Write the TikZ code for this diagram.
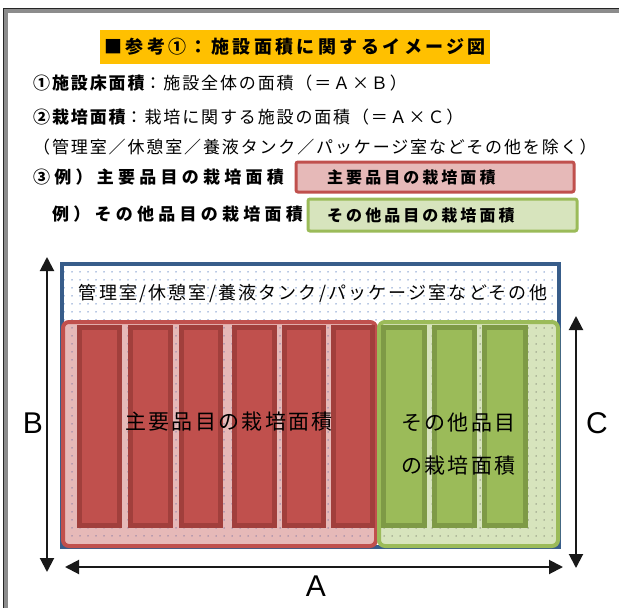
\documentclass[tikz,border=0pt]{standalone}
\usepackage{fontspec}
\setmainfont{Noto Sans CJK JP}
\newfontfamily\latinsf{Liberation Sans}
\usetikzlibrary{arrows.meta, patterns.meta}

\definecolor{titlebg}{HTML}{FFC000}
\definecolor{mainline}{HTML}{C0504D}
\definecolor{mainfill}{HTML}{E6B9B8}
\definecolor{mainbar}{HTML}{C0504D}
\definecolor{mainbarline}{HTML}{A13F3C}
\definecolor{otherline}{HTML}{9BBB59}
\definecolor{otherfill}{HTML}{D7E4BD}
\definecolor{otherbar}{HTML}{9BBB59}
\definecolor{otherbarline}{HTML}{7E9A46}
\definecolor{siteline}{HTML}{385D8A}
\definecolor{dotblue}{HTML}{6F8FC8}

\newcommand{\spaced}[1]{\addfontfeature{LetterSpace=#1}}

\begin{document}
\begin{tikzpicture}[x=1pt, y=-1pt,
    txt/.style={anchor=west, inner sep=0pt, font=\fontsize{17}{20}\selectfont\spaced{11}},
    example/.style={anchor=west, inner sep=0pt, font=\fontsize{17}{20}\selectfont\bfseries\spaced{25}},
    legendtxt/.style={anchor=west, inner sep=0pt, font=\fontsize{16}{19}\selectfont\bfseries\spaced{19}},
    areatxt/.style={inner sep=0pt, font=\fontsize{21}{24}\selectfont\spaced{11}},
    dimlabel/.style={inner sep=0pt, font=\fontsize{30}{32}\selectfont\latinsf},
    dim/.style={line width=2pt, draw=black!90, {Triangle[length=14pt, width=14pt]}-{Triangle[length=14pt, width=14pt]}},
    dots/.style={pattern={Dots[distance=8pt, radius=0.75pt]}, pattern color=#1},
    mainbox/.style={draw=mainbarline, line width=5pt, fill=mainbar},
    otherbox/.style={draw=otherbarline, line width=5pt, fill=otherbar}
]
\useasboundingbox (0,0) rectangle (619,608);
\fill[white] (0,0) rectangle (619,608);

% frame
\draw[line width=4pt, black!45] (5.5,610) |- (621,10.5);
\draw[line width=1.2pt, black!85] (3.2,610) |- (621,8.2);

% heading and notes
\fill[titlebg] (100,30) rectangle (490,64);
\node[anchor=west, inner sep=0pt, font=\fontsize{18}{20}\selectfont\bfseries\spaced{19}] (title) at (104,47) {■参考①：施設面積に関するイメージ図};
\node[txt] (floor) at (33,83) {{\bfseries ①施設床面積}：施設全体の面積（＝Ａ×Ｂ）};
\node[txt] (culti) at (33,117) {{\bfseries ②栽培面積}：栽培に関する施設の面積（＝Ａ×Ｃ）};
\node[txt] (except) at (33,147) {（管理室／休憩室／養液タンク／パッケージ室などその他を除く）};
\node[example] (ex1) at (33,177) {③例）主要品目の栽培面積};
\node[example] (ex2) at (52,214) {例）その他品目の栽培面積};

% legend
\draw[line width=3pt, draw=mainline, fill=mainfill, rounded corners=2pt] (296,162) rectangle (574,192);
\node[legendtxt] (leg1) at (327,177) {主要品目の栽培面積};
\draw[line width=3pt, draw=otherline, fill=otherfill, rounded corners=2pt] (308,199) rectangle (577,231);
\node[legendtxt] (leg2) at (327,215) {その他品目の栽培面積};

% site
\fill[white] (62,264) rectangle (559,547);
\fill[dots=dotblue] (62,264) rectangle (559,547);
\draw[line width=4pt, siteline] (62,264) rectangle (559,547);
\node[areatxt, font=\fontsize{18}{20}\selectfont\spaced{12}] (rooms) at (313,293) {管理室/休憩室/養液タンク/パッケージ室などその他};

% cultivation areas
\draw[line width=4pt, draw=mainline, fill=mainfill, rounded corners=6pt] (63,322) rectangle (376,546);
\fill[dots=dotblue!70!mainline, rounded corners=6pt] (66,325) rectangle (373,543);
\draw[line width=4pt, draw=otherline, fill=otherfill, rounded corners=6pt] (379,322) rectangle (558,546);
\fill[dots=gray!80!otherline, rounded corners=6pt] (382,325) rectangle (555,543);

\foreach \xa/\xb in {77/122, 128/173, 179/223, 232/277, 282/326, 331/375}
  \draw[mainbox] (\xa+2.5,327.5) rectangle (\xb-2.5,525.5);
\foreach \xa/\xb in {381/427, 432/477, 482/528}
  \draw[otherbox] (\xa+2.5,327.5) rectangle (\xb-2.5,525.5);

\node[areatxt] (mainarea) at (229,422) {主要品目の栽培面積};
\node[areatxt, anchor=west] (other1) at (401,423) {その他品目};
\node[areatxt, anchor=west] (other2) at (401,466) {の栽培面積};

% dimensions
\coordinate (btop) at (47,257);
\coordinate (bbot) at (47,572);
\coordinate (aleft) at (65,567);
\coordinate (aright) at (563,567);
\coordinate (ctop) at (576,316);
\coordinate (cbot) at (576,568);
\draw[dim] (btop) -- (bbot);
\draw[dim] (aleft) -- (aright);
\draw[dim] (ctop) -- (cbot);
\node[dimlabel] (blabel) at (33,423) {B};
\node[dimlabel] (clabel) at (597,423) {C};
\node[dimlabel] (alabel) at (316,586) {A};
\end{tikzpicture}
\end{document}
